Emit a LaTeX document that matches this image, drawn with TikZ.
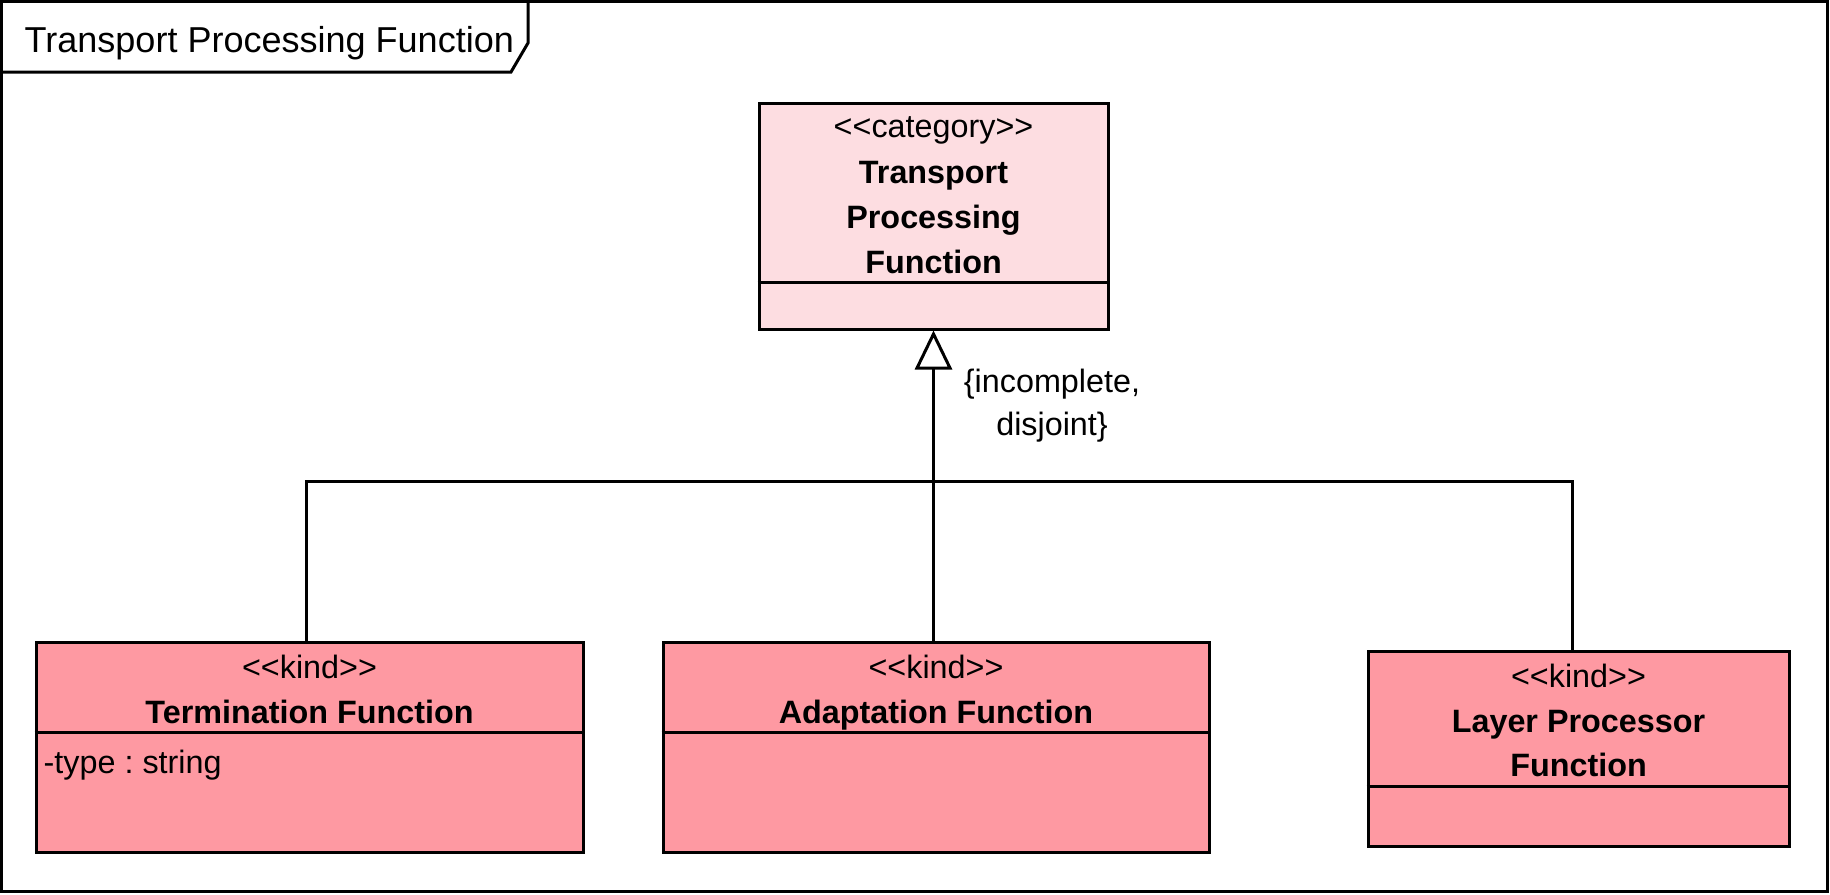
\documentclass[tikz,border=0pt]{standalone}
\usepackage{fontspec}
\setmainfont{Liberation Sans}
\usetikzlibrary{arrows.meta}
\definecolor{catpink}{HTML}{FDDDE1}
\definecolor{kindpink}{HTML}{FE99A2}
\frenchspacing

\begin{document}
\begin{tikzpicture}[
  umlline/.style={line width=0.03cm},
  classbox/.style={draw, line width=0.03cm, inner sep=0pt},
  boxtext/.style={inner sep=0pt, anchor=base, font=\fontsize{9.2}{11}\selectfont},
  boxname/.style={inner sep=0pt, anchor=base, font=\fontsize{9.2}{11}\selectfont\bfseries},
  genarrow/.style={umlline, -{Triangle[open, length=0.39cm, width=0.37cm]}}
]
\useasboundingbox (0,0) rectangle (18.3,-8.94);

% frame and its tab
\draw [umlline] (0.015,-0.015) rectangle (18.275,-8.915);
\draw [umlline] (0.015,-0.72) -- (5.11,-0.72) -- (5.28,-0.43) -- (5.28,-0.015);
\node [anchor=base west, inner sep=0pt, font=\fontsize{10.25}{12}\selectfont] (title) at (0.24,-0.52) {Transport Processing Function};

% category
\node [classbox, fill=catpink, minimum width=3.49cm, minimum height=2.26cm] (tpf) at (9.335,-2.16) {};
\draw [umlline] (tpf.west |- 0,-2.82) -- (tpf.east |- 0,-2.82);
\node [boxtext] (tpf-st) at (9.335,-1.37) {<{}<category>{}>};
\node [boxname] (tpf-n1) at (9.335,-1.83) {Transport};
\node [boxname] (tpf-n2) at (9.335,-2.28) {Processing};
\node [boxname] (tpf-n3) at (9.335,-2.73) {Function};

% kinds
\node [classbox, fill=kindpink, minimum width=5.47cm, minimum height=2.10cm] (term) at (3.095,-7.47) {};
\draw [umlline] (term.west |- 0,-7.32) -- (term.east |- 0,-7.32);
\node [boxtext] (term-st) at (3.095,-6.78) {<{}<kind>{}>};
\node [boxname] (term-n) at (3.095,-7.23) {Termination Function};
\node [boxtext, anchor=base west] (term-at) at (0.43,-7.73) {-type : string};

\node [classbox, fill=kindpink, minimum width=5.46cm, minimum height=2.10cm] (adap) at (9.36,-7.47) {};
\draw [umlline] (adap.west |- 0,-7.32) -- (adap.east |- 0,-7.32);
\node [boxtext] (adap-st) at (9.36,-6.78) {<{}<kind>{}>};
\node [boxname] (adap-n) at (9.36,-7.23) {Adaptation Function};

\node [classbox, fill=kindpink, minimum width=4.21cm, minimum height=1.95cm] (lpf) at (15.785,-7.485) {};
\draw [umlline] (lpf.west |- 0,-7.86) -- (lpf.east |- 0,-7.86);
\node [boxtext] (lpf-st) at (15.785,-6.87) {<{}<kind>{}>};
\node [boxname] (lpf-n1) at (15.785,-7.32) {Layer Processor};
\node [boxname] (lpf-n2) at (15.785,-7.76) {Function};

% generalization set
\coordinate (bar) at (9.335,-4.81);
\draw [genarrow] (bar) -- (tpf.south);
\draw [umlline] ([xshift=-0.035cm]term.north) |- (bar) -| ([xshift=-0.065cm]lpf.north);
\draw [umlline] (adap.north -| bar) -- (bar);

\node [boxtext] (gs1) at (10.52,-3.92) {\{incomplete,};
\node [boxtext] (gs2) at (10.52,-4.35) {disjoint\}};
\end{tikzpicture}
\end{document}
